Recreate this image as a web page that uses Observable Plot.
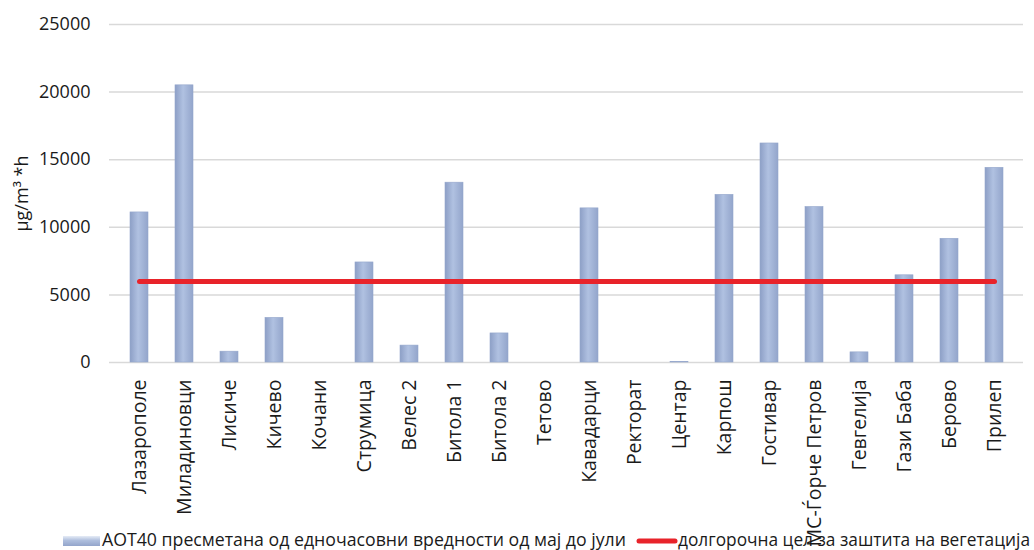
<!DOCTYPE html>
<html><head><meta charset="utf-8">
<script src="https://cdn.jsdelivr.net/npm/d3@7"></script>
<script src="https://cdn.jsdelivr.net/npm/@observablehq/plot@0.6"></script>
<style>
body{margin:0;background:#fff;font-family:"Open Sans",sans-serif;}
#wrap{position:relative;width:1034px;height:550px;overflow:hidden;}
#legend{position:absolute;left:0;top:520px;}
</style></head><body><div id="wrap"><div id="chart"></div><svg id="legend" width="1034" height="30"></svg></div>
<script>
const stations = ["Лазарополе","Миладиновци","Лисиче","Кичево","Кочани","Струмица","Велес 2","Битола 1","Битола 2","Тетово","Кавадарци","Ректорат","Центар","Карпош","Гостивар","МС-Ѓорче Петров","Гевгелија","Гази Баба","Берово","Прилеп"];
const aot40 = [11100,20500,800,3300,0,7400,1250,13300,2150,0,11400,0,50,12400,16200,11500,750,6450,9150,14400];
const targetValue = 6000;
const yTicks = [0,5000,10000,15000,20000,25000];
const yLabel = "µg/m³ *h";
const legendLabels = ["AOT40 пресметана од едночасовни вредности од мај до јули","долгорочна цел за заштита на вегетација"];

const rows = stations.map((s,i)=>({station:s, value:aot40[i], target:targetValue}));

const plot = Plot.plot({
  width:1034, height:520,
  marginLeft:109, marginRight:11, marginTop:24, marginBottom:158,
  style:{fontFamily:"Open Sans", fontSize:"18px", color:"#1a1a1a", background:"white", overflow:"visible"},
  x:{domain:stations, paddingInner:0.6, paddingOuter:0.26, label:null},
  y:{domain:[0,25000], label:null},
  marks:[
    Plot.gridY(yTicks,{stroke:"#d9d9d9", strokeOpacity:1, strokeWidth:1.5}),
    Plot.barY(rows,{x:"station", y:"value", fill:"url(#barGrad)", stroke:"#95a7cc", strokeWidth:0.6}),
    Plot.lineY(rows,{x:"station", y:"target", stroke:"#e8232a", strokeWidth:5, strokeLinecap:"round"}),
    Plot.axisY({ticks:yTicks, tickSize:0, tickPadding:19, tickFormat:d=>String(d), label:yLabel, labelAnchor:"center", labelOffset:94, labelArrow:"none", fontSize:18}),
    Plot.axisX({tickRotate:-90, tickSize:0, tickPadding:17, label:null, fontSize:19.5})
  ]
});
const svg = plot.tagName.toLowerCase()==="svg" ? plot : plot.querySelector("svg");
d3.select(svg).insert("defs",":first-child").html(
  '<linearGradient id="barGrad" x1="0" x2="1" y1="0" y2="0">'+
  '<stop offset="0" stop-color="#8d9fc6"/><stop offset="0.45" stop-color="#b0c1e1"/><stop offset="1" stop-color="#93a5cb"/>'+
  '</linearGradient>');
document.getElementById("chart").appendChild(plot);

const lg = d3.select("#legend");
lg.append("defs").html('<linearGradient id="swGrad2" x1="0" x2="0" y1="0" y2="1"><stop offset="0" stop-color="#e6ecf6"/><stop offset="0.45" stop-color="#aebedd"/><stop offset="1" stop-color="#93a5cb"/></linearGradient>');
lg.append("rect").attr("x",63).attr("y",16).attr("width",37).attr("height",10).attr("fill","url(#swGrad2)");
lg.append("text").attr("x",102).attr("y",26).attr("font-family","Open Sans").attr("font-size",17.7).attr("fill","#1a1a1a")
  .attr("textLength",524).attr("lengthAdjust","spacingAndGlyphs").text(legendLabels[0]);
lg.append("line").attr("x1",639).attr("x2",675).attr("y1",21).attr("y2",21).attr("stroke","#e8232a").attr("stroke-width",5).attr("stroke-linecap","round");
lg.append("text").attr("x",678).attr("y",26).attr("font-family","Open Sans").attr("font-size",17.7).attr("fill","#1a1a1a")
  .attr("textLength",352).attr("lengthAdjust","spacingAndGlyphs").text(legendLabels[1]);
</script></body></html>
